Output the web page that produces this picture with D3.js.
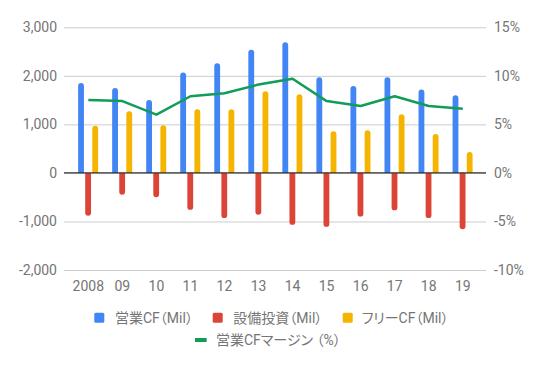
<!DOCTYPE html>
<html><head><meta charset="utf-8">
<script src="https://cdn.jsdelivr.net/npm/d3@7"></script>
<style>
html,body{margin:0;padding:0;background:#fff;}
svg{display:block;font-family:Roboto,"Noto Sans CJK JP",sans-serif;}
.legend text{font-feature-settings:"palt";}
</style></head>
<body>
<svg id="chart" width="543" height="367"></svg>
<script>
const years = ['2008','09','10','11','12','13','14','15','16','17','18','19'];
const opCF   = [1850,1750,1500,2070,2260,2540,2690,1970,1790,1970,1720,1600];
const capex  = [-880,-450,-500,-760,-930,-860,-1070,-1110,-900,-770,-930,-1160];
const fcf    = [970,1270,980,1310,1310,1680,1620,860,880,1210,800,430];
const margin = [7.5,7.4,6.0,7.9,8.2,9.1,9.7,7.4,6.9,7.9,6.9,6.6];
const leftTicks  = [-2000,-1000,0,1000,2000,3000];
const rightTicks = [-10,-5,0,5,10,15];
const seriesNames = ['営業CF（Mil）','設備投資（Mil）','フリーCF（Mil）'];
const lineName = '営業CFマージン （%）';
const colors = ['#4285F4','#DB4437','#F4B400'];
const lineColor = '#0F9D58';

const svg = d3.select('#chart');
const plotL = 64, plotR = 486, plotT = 27.3, plotB = 270;
const yL = d3.scaleLinear().domain([-2000,3000]).range([plotB,plotT]);
const yR = d3.scaleLinear().domain([-10,15]).range([plotB,plotT]);
const x = d3.scaleBand().domain(years).range([71.3,479.8]);
const inner = d3.scaleBand().domain([0,1,2]).range([-10.2,9.8]).paddingInner(0.18);
const textColor = '#757575';
const fmt = d => d3.format(',')(d).replace('\u2212','-');

const gL = svg.append('g').attr('transform',`translate(${plotL},0)`)
  .call(d3.axisLeft(yL).tickValues(leftTicks).tickSize(-(plotR-plotL)).tickPadding(7).tickFormat(fmt));
gL.select('.domain').remove();
gL.selectAll('line').attr('stroke','#cccccc');
gL.selectAll('text').attr('fill',textColor).style('font-size','14px').style('font-family','Roboto,sans-serif');

const gR = svg.append('g').attr('transform',`translate(${plotR},0)`)
  .call(d3.axisRight(yR).tickValues(rightTicks).tickSize(0).tickPadding(8).tickFormat(d=>fmt(d)+'%'));
gR.select('.domain').remove();
gR.selectAll('text').attr('fill',textColor).style('font-size','14px').style('font-family','Roboto,sans-serif');

const gX = svg.append('g').attr('transform',`translate(0,${plotB})`)
  .call(d3.axisBottom(x).tickSize(0).tickPadding(11.5));
gX.select('.domain').remove();
gX.selectAll('text').attr('fill',textColor).style('font-size','14px').style('font-family','Roboto,sans-serif');

function barPath(x0,w,yb,ye,r){
  const h = Math.abs(ye-yb); r = Math.min(r,w/2,h);
  if(ye<yb){
    return `M${x0},${yb}V${ye+r}A${r},${r} 0 0 1 ${x0+r},${ye}H${x0+w-r}A${r},${r} 0 0 1 ${x0+w},${ye+r}V${yb}Z`;
  } else {
    return `M${x0},${yb}V${ye-r}A${r},${r} 0 0 0 ${x0+r},${ye}H${x0+w-r}A${r},${r} 0 0 0 ${x0+w},${ye-r}V${yb}Z`;
  }
}
const series = [opCF,capex,fcf];
series.forEach((vals,si)=>{
  svg.append('g').selectAll('path').data(vals).join('path')
    .attr('d',(v,i)=>{
      const cx = x(years[i]) + x.bandwidth()/2;
      return barPath(cx+inner(si), inner.bandwidth(), yL(0), yL(v), 3);
    })
    .attr('fill',colors[si]);
});

svg.append('line').attr('x1',plotL).attr('x2',plotR).attr('y1',yL(0)).attr('y2',yL(0))
  .attr('stroke','#333333').attr('stroke-width',1.2);

const line = d3.line().x((d,i)=>x(years[i])+x.bandwidth()/2).y(d=>yR(d));
svg.append('path').datum(margin).attr('d',line).attr('fill','none')
  .attr('stroke',lineColor).attr('stroke-width',2.5).attr('stroke-linejoin','round');

const lg = svg.append('g').attr('class','legend').style('font-size','14px').attr('fill',textColor);
const sqX = [94.3,212.7,342.7], txX = [115,233.3,361.7];
seriesNames.forEach((n,i)=>{
  lg.append('rect').attr('x',sqX[i]).attr('y',312.7).attr('width',10).attr('height',10).attr('rx',1.5).attr('fill',colors[i]);
  lg.append('text').attr('x',txX[i]).attr('y',317.7).attr('dy','0.35em').text(n);
});
lg.append('line').attr('x1',195).attr('x2',206.7).attr('y1',340).attr('y2',340).attr('stroke',lineColor).attr('stroke-width',4);
lg.append('text').attr('x',216).attr('y',340).attr('dy','0.35em').text(lineName);
</script>
</body></html>
